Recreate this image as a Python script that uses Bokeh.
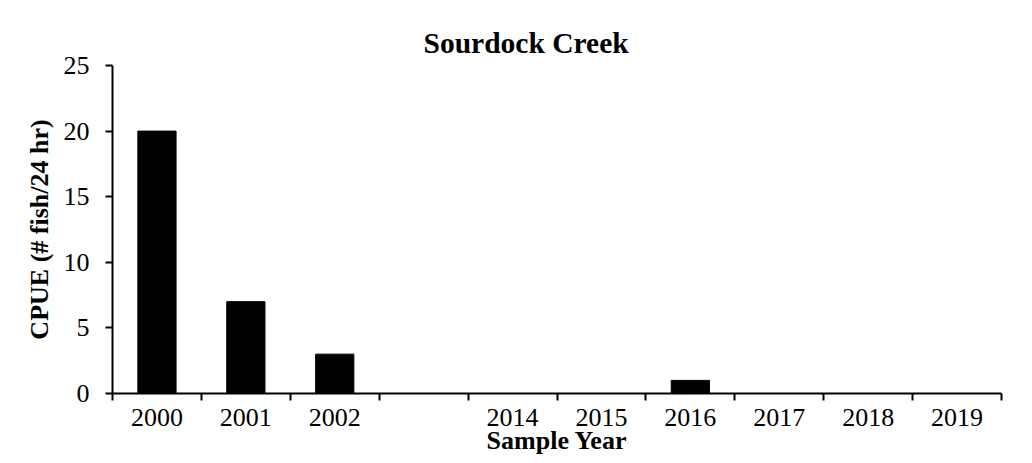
from bokeh.plotting import figure
from bokeh.models import Range1d, FixedTicker, BoxAnnotation
from bokeh.embed import file_html
from bokeh.resources import INLINE

# ---- data ----
categories = ["2000", "2001", "2002", "", "2014", "2015", "2016", "2017", "2018", "2019"]
cpue = [20, 7, 3, 0, 0, 0, 1, 0, 0, 0]
y_ticks = [0, 5, 10, 15, 20, 25]
title_text = "Sourdock Creek"
x_label = "Sample Year"
y_label = "CPUE (# fish/24 hr)"

FONT = "Liberation Serif"
EDGE = "#8a8a8a"

n = len(categories)
centers = [i + 0.5 for i in range(n)]
bounds = list(range(n + 1))

W, H = 1024, 456
p = figure(width=W, height=H, output_backend="svg", toolbar_location=None,
           x_range=Range1d(0, n), y_range=Range1d(0, 25),
           min_border_left=106, min_border_top=61, min_border_right=29, min_border_bottom=67,
           title=title_text)

p.styles = {"margin-left": "6px", "margin-top": "4px"}

# outer chart-area edge lines (left and top), in canvas pixels
for box in (dict(left=0, right=2, top=0, bottom=H),
            dict(left=0, right=W, top=0, bottom=1.5)):
    p.add_layout(BoxAnnotation(**box, left_units="canvas", right_units="canvas",
                               top_units="canvas", bottom_units="canvas",
                               fill_color=EDGE, fill_alpha=1, line_color=None,
                               level="overlay"))

p.vbar(x=centers, top=cpue, width=0.43, fill_color="black", line_color="black")

# title
p.title.text_font = FONT
p.title.text_font_size = "29.5px"
p.title.text_font_style = "bold"
p.title.text_color = "black"
p.title.align = "left"
p.title.offset = 311
p.title.standoff = 14

p.outline_line_color = None
p.grid.visible = False
p.background_fill_color = "white"
p.border_fill_color = "white"

# x axis
xa = p.xaxis[0]
xa.ticker = FixedTicker(ticks=[c for c, lab in zip(centers, categories) if lab],
                        minor_ticks=bounds)
xa.major_label_overrides = {c: lab for c, lab in zip(centers, categories) if lab}
xa.major_tick_out = 0
xa.major_tick_in = 0
xa.minor_tick_out = 7
xa.minor_tick_in = 0
xa.minor_tick_line_color = "black"
xa.minor_tick_line_width = 2
xa.axis_line_color = "black"
xa.axis_line_width = 2
xa.major_label_text_font = FONT
xa.major_label_text_font_size = "26px"
xa.major_label_text_color = "black"
xa.major_label_standoff = 8
xa.axis_label = x_label
xa.axis_label_text_font = FONT
xa.axis_label_text_font_size = "26px"
xa.axis_label_text_font_style = "bold"
xa.axis_label_text_color = "black"
xa.axis_label_standoff = -3

# y axis
ya = p.yaxis[0]
ya.ticker = FixedTicker(ticks=y_ticks, minor_ticks=[])
ya.major_tick_out = 7
ya.major_tick_in = 0
ya.major_tick_line_color = "black"
ya.major_tick_line_width = 2
ya.axis_line_color = "black"
ya.axis_line_width = 2
ya.major_label_text_font = FONT
ya.major_label_text_font_size = "26px"
ya.major_label_text_color = "black"
ya.major_label_standoff = 16
ya.axis_label = y_label
ya.axis_label_text_font = FONT
ya.axis_label_text_font_size = "26px"
ya.axis_label_text_font_style = "bold"
ya.axis_label_text_color = "black"
ya.axis_label_standoff = 7

open("out.html", "w").write(file_html(p, INLINE))
